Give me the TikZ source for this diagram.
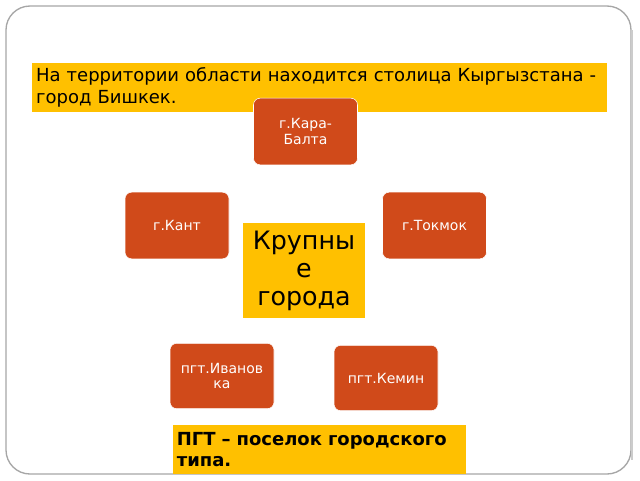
\documentclass[tikz,border=0pt]{standalone}
\usepackage{fontspec}
\setmainfont{DejaVu Sans}
\definecolor{cityred}{HTML}{D04A1A}
\definecolor{noteyellow}{HTML}{FFC000}
\begin{document}
\begin{tikzpicture}[x=0.75pt,y=-0.75pt,
	city/.style={rectangle, rounded corners=5pt, fill=cityred, draw=white, text=white, align=center, font=\fontsize{10.5}{11.5}\selectfont, minimum width=78pt, minimum height=50pt},
	note/.style={rectangle, fill=noteyellow, align=left, inner sep=2pt}
	]
	\useasboundingbox (0,0) rectangle (640,480);
	\draw [gray!70, line width=1pt, rounded corners=18pt, fill=white] (6,6) rectangle (631,474);
	\draw [gray!40, line width=1.5pt] (632,30) -- (632,460);

	\node (capital) [note, minimum width=431pt, minimum height=37pt, text width=425pt, font=\fontsize{13.5}{16}\selectfont] at (319.5,87.5) {На территории области находится столица Кыргызстана - город Бишкек.};

	\node (karabalta) [city] at (305.5,131.5) {г.Кара-\\Балта};
	\node (kant) [city] at (177,225.5) {г.Кант};
	\node (tokmok) [city] at (434.5,225.5) {г.Токмок};
	\node (big) [note, align=center, minimum width=91pt, minimum height=71pt, font=\fontsize{19}{21}\selectfont] at (304,270.5) {Крупны\\е\\города};
	\node (ivanovka) [city, minimum height=49pt] at (222,376) {пгт.Иванов\\ка};
	\node (kemin) [city, minimum height=49pt] at (386,378) {пгт.Кемин};

	\node (pgt) [note, minimum width=220pt, minimum height=37pt, text width=214pt, font=\bfseries\fontsize{13.5}{16}\selectfont] at (319.5,449.5) {ПГТ – поселок городского типа.};
\end{tikzpicture}
\end{document}
